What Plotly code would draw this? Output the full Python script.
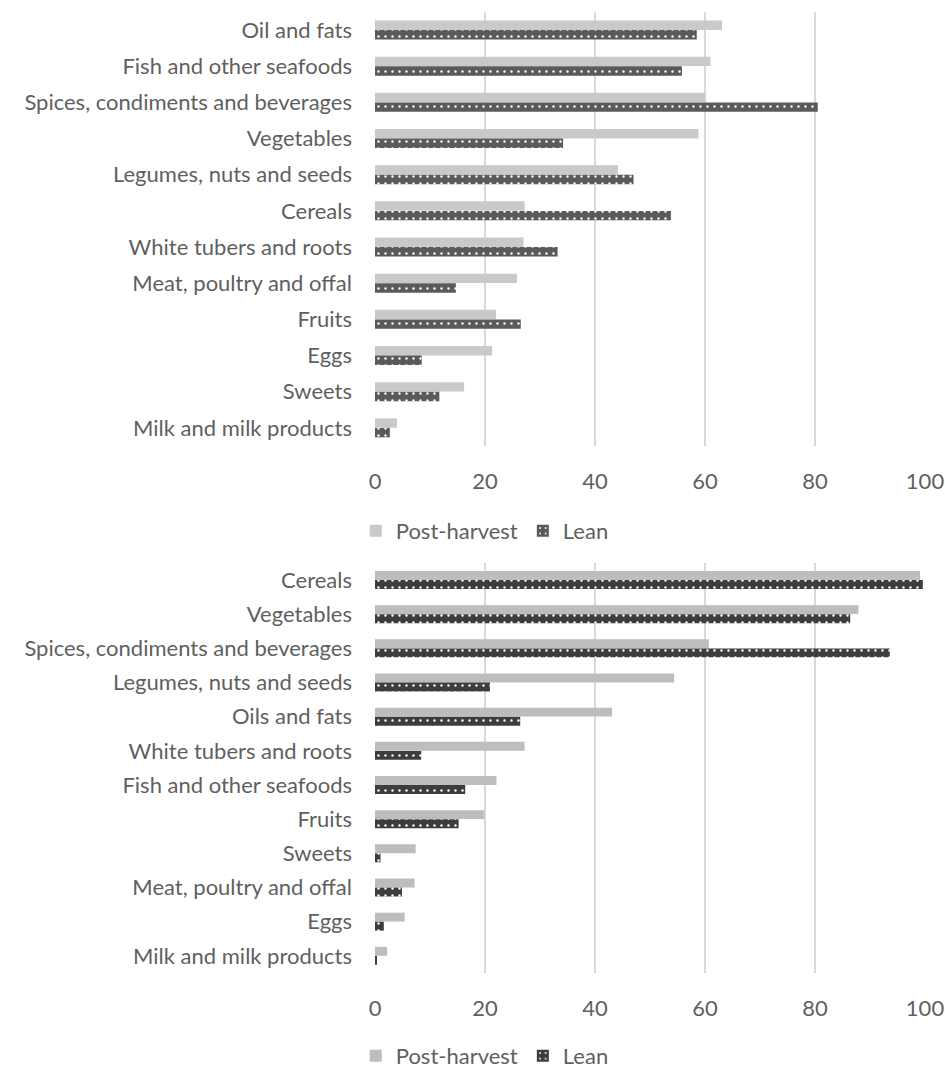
import plotly.graph_objects as go

# ---- data ----
top_categories = [
    "Oil and fats", "Fish and other seafoods", "Spices, condiments and beverages",
    "Vegetables", "Legumes, nuts and seeds", "Cereals", "White tubers and roots",
    "Meat, poultry and offal", "Fruits", "Eggs", "Sweets", "Milk and milk products",
]
top_post = [63.1, 61.0, 60.0, 58.8, 44.2, 27.2, 27.0, 25.8, 22.0, 21.3, 16.2, 4.0]
top_lean = [58.5, 55.8, 80.5, 34.2, 47.0, 53.8, 33.2, 14.7, 26.5, 8.5, 11.7, 2.7]

bot_categories = [
    "Cereals", "Vegetables", "Spices, condiments and beverages", "Legumes, nuts and seeds",
    "Oils and fats", "White tubers and roots", "Fish and other seafoods", "Fruits",
    "Sweets", "Meat, poultry and offal", "Eggs", "Milk and milk products",
]
bot_post = [99.1, 87.9, 60.7, 54.4, 43.1, 27.2, 22.1, 19.9, 7.4, 7.2, 5.4, 2.2]
bot_lean = [99.6, 86.4, 93.6, 20.9, 26.4, 8.4, 16.4, 15.2, 1.0, 4.9, 1.6, 0.3]

x_ticks = [0, 20, 40, 60, 80, 100]
series_names = ["Post-harvest", "Lean"]

# ---- style ----
FONT = "Lato"
TXT = "#5f5f5f"
FS = 22
W = 945
H = 1069

fig = go.Figure()

def add_pair(cats, post, lean, xa, ya, legend, post_col, lean_col):
    fig.add_trace(go.Bar(
        y=cats, x=post, orientation="h", name=series_names[0],
        marker=dict(color=post_col, line=dict(width=0)),
        width=0.26, offset=-0.265, xaxis=xa, yaxis=ya, legend=legend,
        hoverinfo="x+y",
    ))
    fig.add_trace(go.Bar(
        y=cats, x=lean, orientation="h", name=series_names[1],
        marker=dict(color=lean_col, line=dict(width=0),
                    pattern=dict(shape=".", fgcolor="white", bgcolor=lean_col,
                                 size=7, solidity=0.09, fillmode="replace")),
        width=0.26, offset=0.0, xaxis=xa, yaxis=ya, legend=legend,
        hoverinfo="x+y",
    ))

add_pair(top_categories, top_post, top_lean, "x", "y", "legend", "#c9c9c9", "#5a5a5a")
add_pair(bot_categories, bot_post, bot_lean, "x2", "y2", "legend2", "#bdbdbd", "#3d3d3d")

def yd(top_px, bot_px):
    return [(H - bot_px) / H, (H - top_px) / H]

xaxis_common = dict(
    range=[0, 100], tickvals=x_ticks, showgrid=True, gridcolor="#d9d9d9", gridwidth=2,
    zeroline=False, showline=False, ticks="", tickfont=dict(family=FONT, size=FS, color=TXT),
    ticklabelstandoff=20, fixedrange=True,
)
yaxis_common = dict(
    autorange="reversed", showgrid=False, zeroline=False, showline=False, ticks="",
    tickfont=dict(family=FONT, size=FS, color=TXT), ticklabelstandoff=22, fixedrange=True,
)

fig.update_layout(
    width=W, height=H,
    margin=dict(l=375, r=20, t=0, b=0, autoexpand=False),
    paper_bgcolor="white", plot_bgcolor="white",
    barmode="overlay",
    showlegend=True,
    font=dict(family=FONT, color=TXT, size=FS),
    xaxis=dict(domain=[0, 1], anchor="y", **xaxis_common),
    yaxis=dict(domain=yd(12, 446), anchor="x", **yaxis_common),
    xaxis2=dict(domain=[0, 1], anchor="y2", **xaxis_common),
    yaxis2=dict(domain=yd(563, 973), anchor="x2", **yaxis_common),
    legend=dict(orientation="h", x=-0.035, xanchor="left", y=(H - 531) / H, yanchor="middle",
                font=dict(family=FONT, size=FS, color=TXT), itemwidth=30,
                bgcolor="rgba(0,0,0,0)", traceorder="normal"),
    legend2=dict(orientation="h", x=-0.035, xanchor="left", y=(H - 1056) / H, yanchor="middle",
                 font=dict(family=FONT, size=FS, color=TXT), itemwidth=30,
                 bgcolor="rgba(0,0,0,0)", traceorder="normal"),
)

fig.write_html("out.html", config={"displayModeBar": False},
               post_script="document.body.style.margin='0';document.body.style.padding='0';")
